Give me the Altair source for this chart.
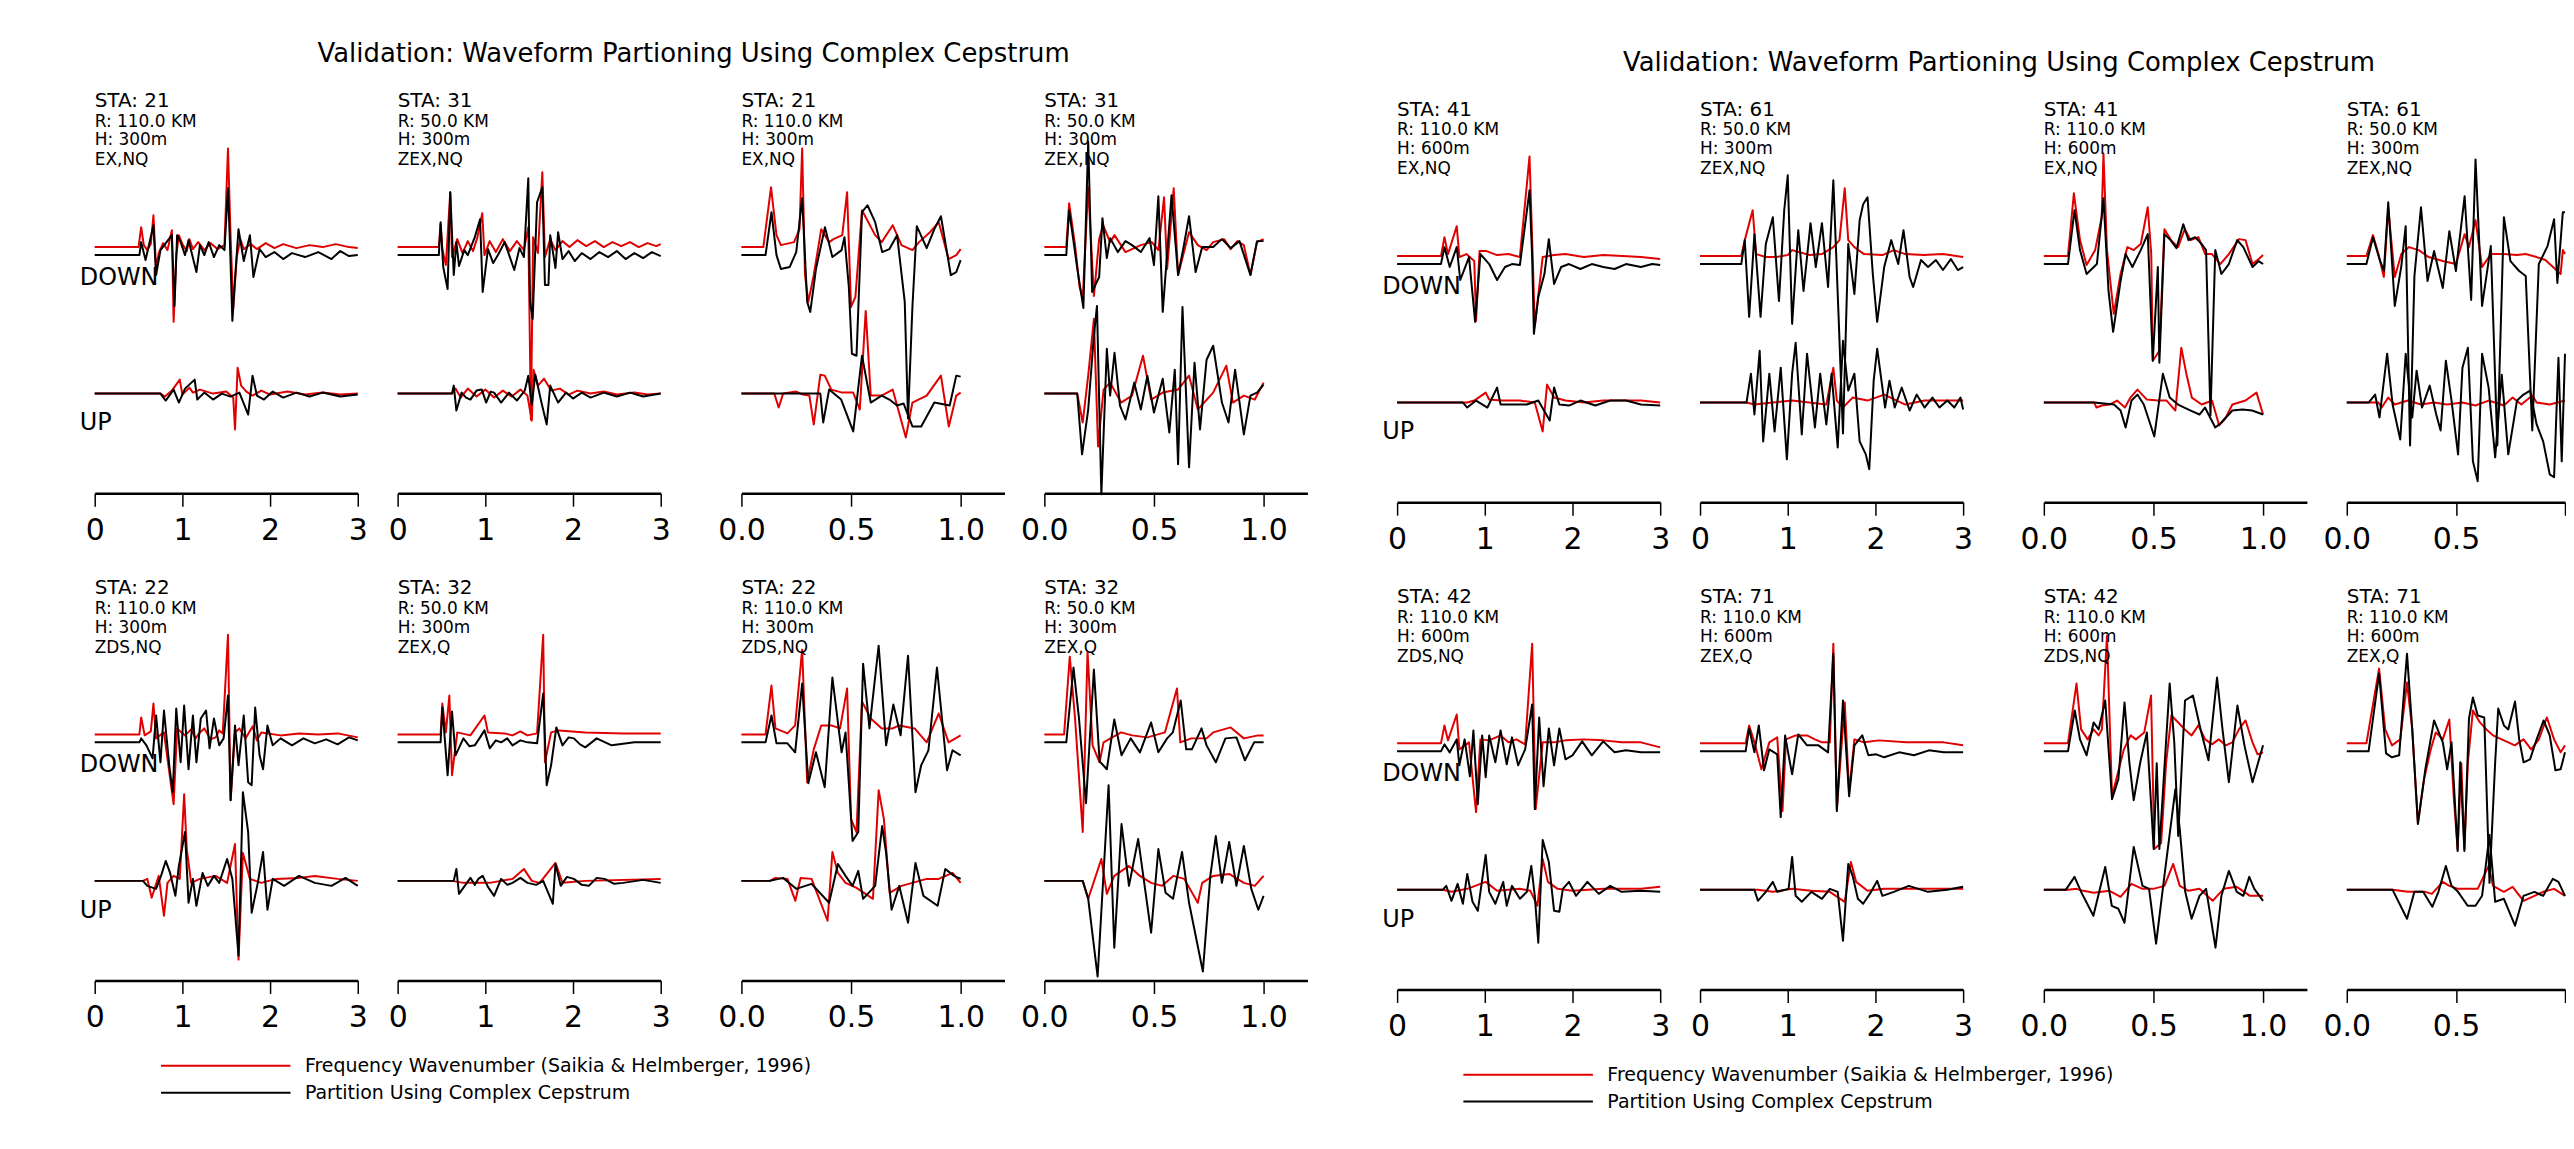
import altair as alt
import pandas as pd

FONT = "DejaVu Sans"
RED = "#e00000"
BLACK = "#000000"
FK = "Frequency Wavenumber (Saikia & Helmberger, 1996)"
CC = "Partition Using Complex Cepstrum"
TITLE = "Validation:  Waveform Partioning Using Complex Cepstrum"

# ---------------- panel metadata ----------------
PANELS = ["L1", "L2", "L3", "L4", "L5", "L6", "L7", "L8",
          "R1", "R2", "R3", "R4", "R5", "R6", "R7", "R8"]
STATIONS = ["21", "31", "21", "31", "22", "32", "22", "32",
            "41", "61", "41", "61", "42", "71", "42", "71"]
RANGES = ["110.0", "50.0", "110.0", "50.0", "110.0", "50.0", "110.0", "50.0",
          "110.0", "50.0", "110.0", "50.0", "110.0", "110.0", "110.0", "110.0"]
DEPTHS = ["300m", "300m", "300m", "300m", "300m", "300m", "300m", "300m",
          "600m", "300m", "600m", "300m", "600m", "600m", "600m", "600m"]
SOURCES = ["EX,NQ", "ZEX,NQ", "EX,NQ", "ZEX,NQ", "ZDS,NQ", "ZEX,Q", "ZDS,NQ", "ZEX,Q",
           "EX,NQ", "ZEX,NQ", "EX,NQ", "ZEX,NQ", "ZDS,NQ", "ZEX,Q", "ZDS,NQ", "ZEX,Q"]
# time-axis extent (s); the right-most panels are cut by the page edge at 1.0 s
X_MAX = [3, 3, 1.2, 1.2, 3, 3, 1.2, 1.2, 3, 3, 1.2, 1.0, 3, 3, 1.2, 1.0]
CUT = [False] * 11 + [True] + [False] * 3 + [True]
TICKS_LONG = [0, 1, 2, 3]
TICKS_SHORT = [0.0, 0.5, 1.0]

# ---------------- waveforms: (time, amplitude) ----------------
L1_DOWN_FK = [(0,0),(0.50,0),(0.53,20),(0.56,2),(0.60,-3),(0.64,3),(0.67,32),(0.70,-22),(0.73,-6),(0.78,4),(0.83,-3),(0.88,17),(0.90,-75),(0.93,-8),(0.96,12),(1.00,3),(1.05,-4),(1.08,8),(1.12,-2),(1.18,5),(1.25,-3),(1.32,4),(1.40,-2),(1.48,2),(1.52,99),(1.55,10),(1.58,-62),(1.62,-10),(1.66,8),(1.70,-2),(1.78,3),(1.85,-2),(1.95,4),(2.05,-1),(2.15,3),(2.30,-1),(2.45,2),(2.60,0),(2.75,3),(2.90,0),(3.00,-1)]
L1_DOWN_CC = [(0,-8),(0.51,-8),(0.53,5),(0.58,-13),(0.67,22),(0.70,-28),(0.75,-3),(0.88,12),(0.91,-59),(0.94,12),(0.98,5),(1.03,-8),(1.07,7),(1.16,-25),(1.20,2),(1.25,-8),(1.30,5),(1.36,-10),(1.42,2),(1.48,-3),(1.52,59),(1.54,10),(1.57,-74),(1.60,-32),(1.64,18),(1.70,-14),(1.77,12),(1.81,-30),(1.88,-2),(1.95,-10),(2.05,-5),(2.15,-12),(2.25,-6),(2.40,-10),(2.55,-5),(2.70,-12),(2.80,-4),(2.90,-9),(3.00,-8)]
L1_UP_FK = [(0,0),(0.75,0),(0.80,-3),(0.88,3),(0.97,14),(1.00,-1),(1.08,6),(1.12,1),(1.20,4),(1.35,0),(1.50,2),(1.58,-4),(1.60,-36),(1.63,26),(1.67,8),(1.73,2),(1.80,-2),(1.90,3),(2.00,-1),(2.20,2),(2.40,-1),(2.60,1),(2.80,-1),(3.00,0)]
L1_UP_CC = [(0,0),(0.75,0),(0.81,-7),(0.90,4),(0.96,-9),(1.03,5),(1.14,14),(1.17,-6),(1.25,1),(1.35,-6),(1.45,0),(1.55,-3),(1.65,1),(1.75,-21),(1.80,18),(1.85,-2),(1.93,-6),(2.03,2),(2.15,-4),(2.30,1),(2.45,-3),(2.60,1),(2.80,-3),(3.00,-1)]

L2_DOWN_FK = [(0,0),(0.47,0),(0.49,23),(0.51,-2),(0.55,-18),(0.60,55),(0.62,-10),(0.68,8),(0.74,-6),(0.80,6),(0.86,-4),(0.91,10),(0.965,34),(0.99,-8),(1.05,6),(1.12,-5),(1.20,8),(1.28,-4),(1.36,6),(1.44,-3),(1.49,20),(1.52,-173),(1.545,10),(1.60,-6),(1.65,75),(1.68,-10),(1.74,8),(1.80,-3),(1.88,6),(1.96,0),(2.05,7),(2.15,1),(2.25,6),(2.35,0),(2.45,5),(2.55,1),(2.65,5),(2.75,0),(2.85,4),(2.95,1),(3.00,3)]
L2_DOWN_CC = [(0,-8),(0.47,-8),(0.49,25),(0.52,-20),(0.57,-42),(0.60,55),(0.64,-28),(0.67,5),(0.70,-19),(0.76,-3),(0.80,-8),(0.88,10),(0.94,28),(0.97,-45),(1.03,-2),(1.09,-16),(1.15,-7),(1.22,5),(1.28,-10),(1.33,-23),(1.39,-1),(1.44,-10),(1.49,69),(1.51,-55),(1.54,-72),(1.59,45),(1.65,60),(1.68,-38),(1.72,-38),(1.74,12),(1.80,-21),(1.83,15),(1.88,-12),(1.95,-4),(2.02,-14),(2.10,-6),(2.20,-12),(2.30,-5),(2.40,-10),(2.50,-4),(2.60,-12),(2.70,-6),(2.80,-11),(2.90,-5),(3.00,-9)]
L2_UP_FK = [(0,0),(0.62,0),(0.66,5),(0.72,-4),(0.80,5),(0.90,-3),(1.00,4),(1.10,-4),(1.20,3),(1.30,-3),(1.40,4),(1.48,-2),(1.53,-27),(1.55,24),(1.60,8),(1.67,15),(1.75,3),(1.85,5),(1.95,-1),(2.05,3),(2.20,0),(2.35,2),(2.50,-1),(2.70,1),(2.85,-1),(3.00,0)]
L2_UP_CC = [(0,0),(0.62,0),(0.64,8),(0.67,-17),(0.73,1),(0.78,-4),(0.83,-6),(0.90,3),(0.96,4),(1.01,-9),(1.06,2),(1.10,1),(1.18,-9),(1.27,1),(1.36,-7),(1.45,3),(1.49,18),(1.53,-11),(1.57,19),(1.64,-9),(1.70,-31),(1.74,8),(1.83,-9),(1.92,1),(2.00,-5),(2.10,1),(2.20,-4),(2.35,1),(2.50,-3),(2.65,1),(2.80,-3),(3.00,0)]

L3_DOWN_FK = [(0,0),(0.10,0),(0.135,60),(0.16,12),(0.18,2),(0.24,5),(0.265,18),(0.277,99),(0.29,-28),(0.305,-55),(0.33,-28),(0.364,18),(0.40,5),(0.42,8),(0.46,12),(0.482,55),(0.50,-60),(0.52,-50),(0.55,37),(0.61,12),(0.64,5),(0.69,22),(0.73,2),(0.78,-3),(0.81,5),(0.86,15),(0.90,25),(0.945,-12),(0.98,-8),(1.00,-2)]
L3_DOWN_CC = [(0,-8),(0.11,-8),(0.137,35),(0.16,-8),(0.18,-22),(0.22,-20),(0.25,-5),(0.277,49),(0.30,-55),(0.314,-65),(0.34,-22),(0.381,20),(0.415,-10),(0.457,-3),(0.47,10),(0.49,-40),(0.504,-107),(0.525,-109),(0.55,35),(0.575,42),(0.61,25),(0.642,-5),(0.675,-2),(0.71,12),(0.745,-55),(0.76,-172),(0.78,-60),(0.80,21),(0.845,-1),(0.88,18),(0.91,31),(0.955,-28),(0.98,-25),(1.00,-13)]
L3_UP_FK = [(0,0),(0.15,0),(0.17,-14),(0.19,0),(0.25,2),(0.28,-1),(0.31,-2),(0.33,-31),(0.36,19),(0.38,18),(0.41,4),(0.46,1),(0.51,1),(0.54,-16),(0.567,83),(0.59,-2),(0.64,-2),(0.69,4),(0.75,-44),(0.78,-9),(0.845,-2),(0.91,18),(0.946,-33),(0.98,-2),(1.00,1)]
L3_UP_CC = [(0,0),(0.36,0),(0.373,-29),(0.40,4),(0.455,-6),(0.51,-38),(0.55,38),(0.59,-9),(0.64,-2),(0.675,-6),(0.71,-12),(0.74,-10),(0.78,-33),(0.82,-33),(0.88,-9),(0.95,-12),(0.98,18),(1.00,17)]

L4_DOWN_FK = [(0,0),(0.10,0),(0.113,44),(0.14,2),(0.16,-39),(0.175,-52),(0.20,60),(0.226,-49),(0.25,8),(0.268,22),(0.30,5),(0.32,12),(0.37,-5),(0.44,2),(0.49,5),(0.52,-3),(0.546,50),(0.56,-22),(0.59,59),(0.61,-28),(0.66,15),(0.70,2),(0.74,-3),(0.77,5),(0.82,8),(0.85,-2),(0.88,6),(0.91,2),(0.94,-28),(0.97,5),(1.00,8)]
L4_DOWN_CC = [(0,-8),(0.10,-8),(0.113,37),(0.15,-21),(0.178,-61),(0.20,106),(0.218,-45),(0.25,-30),(0.265,29),(0.285,-11),(0.30,9),(0.335,-5),(0.37,6),(0.40,2),(0.44,-5),(0.48,9),(0.50,-18),(0.52,51),(0.54,-65),(0.58,52),(0.61,-28),(0.635,0),(0.66,31),(0.69,-25),(0.72,0),(0.77,0),(0.81,8),(0.85,-1),(0.89,6),(0.94,-28),(0.97,6),(1.00,6)]
L4_UP_FK = [(0,0),(0.15,0),(0.175,-29),(0.20,18),(0.226,75),(0.245,-53),(0.27,4),(0.30,11),(0.35,-9),(0.40,-2),(0.45,38),(0.487,-6),(0.54,1),(0.61,4),(0.66,18),(0.70,-16),(0.77,1),(0.83,28),(0.86,-9),(0.91,-2),(0.96,-6),(1.00,11)]
L4_UP_CC = [(0,0),(0.15,0),(0.172,-61),(0.20,-16),(0.226,58),(0.24,88),(0.26,-101),(0.285,45),(0.30,-2),(0.32,41),(0.345,-12),(0.37,-26),(0.41,11),(0.44,-16),(0.47,18),(0.50,-19),(0.54,15),(0.57,-39),(0.595,24),(0.61,-71),(0.63,87),(0.66,-74),(0.685,31),(0.71,-36),(0.74,34),(0.77,48),(0.81,-9),(0.84,-29),(0.87,24),(0.91,-41),(0.94,-2),(0.97,1),(1.00,9)]

L5_DOWN_FK = [(0,0),(0.51,0),(0.53,17),(0.57,-1),(0.64,3),(0.67,31),(0.70,-4),(0.79,2),(0.90,-70),(0.94,6),(1.03,-1),(1.10,5),(1.15,-4),(1.20,2),(1.25,6),(1.32,-5),(1.38,-3),(1.42,4),(1.46,1),(1.52,100),(1.55,-66),(1.60,2),(1.65,6),(1.72,-4),(1.80,8),(1.85,-6),(1.90,2),(2.12,-1),(2.33,1),(2.55,0),(2.77,1),(3.00,-3)]
L5_DOWN_CC = [(0,-8),(0.51,-8),(0.53,-4),(0.59,-11),(0.66,-24),(0.70,19),(0.75,-28),(0.79,24),(0.85,-31),(0.89,-58),(0.93,26),(0.98,-28),(1.02,29),(1.07,-35),(1.12,19),(1.16,-28),(1.21,16),(1.27,24),(1.31,-14),(1.36,16),(1.42,-11),(1.47,-4),(1.52,39),(1.55,-66),(1.60,9),(1.64,-31),(1.70,19),(1.75,-48),(1.79,-51),(1.83,27),(1.88,-21),(1.92,-35),(1.97,9),(2.03,-11),(2.12,-4),(2.25,-11),(2.38,-4),(2.51,-9),(2.64,-5),(2.77,-10),(2.90,-3),(3.00,-6)]
L5_UP_FK = [(0,0),(0.55,0),(0.60,2),(0.65,-17),(0.73,5),(0.79,-35),(0.83,-2),(0.90,5),(0.97,2),(1.02,87),(1.05,32),(1.10,-2),(1.20,2),(1.38,5),(1.51,-2),(1.60,37),(1.64,-79),(1.69,28),(1.77,2),(1.90,-2),(2.07,2),(2.33,3),(2.51,5),(2.77,2),(3.00,0)]
L5_UP_CC = [(0,0),(0.55,0),(0.60,-5),(0.70,-8),(0.76,6),(0.81,20),(0.86,8),(0.92,-15),(0.96,15),(1.03,49),(1.07,-22),(1.12,2),(1.16,-25),(1.23,8),(1.29,-5),(1.36,5),(1.42,-2),(1.51,22),(1.57,2),(1.64,-75),(1.69,89),(1.75,49),(1.79,-32),(1.86,-2),(1.92,29),(1.97,-29),(2.03,2),(2.16,-5),(2.33,5),(2.51,-2),(2.70,-5),(2.86,3),(3.00,-5)]

L6_DOWN_FK = [(0,0),(0.49,0),(0.51,31),(0.55,2),(0.59,39),(0.62,-41),(0.68,2),(0.83,-1),(0.99,19),(1.03,2),(1.22,1),(1.31,-1),(1.40,3),(1.48,-1),(1.59,1),(1.66,100),(1.68,-28),(1.75,2),(1.84,4),(2.14,2),(2.57,1),(3.00,1)]
L6_DOWN_CC = [(0,-8),(0.49,-8),(0.51,27),(0.57,-41),(0.62,23),(0.66,-21),(0.75,-4),(0.82,-12),(0.88,-11),(0.94,-3),(0.99,4),(1.05,-14),(1.12,-6),(1.18,-8),(1.25,-4),(1.31,-11),(1.40,-6),(1.48,-8),(1.59,-9),(1.66,41),(1.70,-51),(1.75,-31),(1.81,7),(1.88,-11),(1.95,-3),(2.01,-4),(2.08,-10),(2.14,-13),(2.27,-4),(2.44,-11),(2.70,-8),(3.00,-8)]
L6_UP_FK = [(0,0),(0.62,0),(0.75,-2),(1.05,-2),(1.31,2),(1.44,12),(1.53,0),(1.62,-2),(1.80,18),(1.88,-2),(2.14,0),(3.00,2)]
L6_UP_CC = [(0,0),(0.64,0),(0.67,12),(0.70,-13),(0.79,-2),(0.83,3),(0.88,-4),(0.92,2),(0.97,5),(1.03,-6),(1.10,-15),(1.18,2),(1.25,-4),(1.31,-2),(1.40,3),(1.48,-2),(1.58,-4),(1.66,0),(1.77,-23),(1.80,17),(1.86,-5),(1.93,4),(2.01,2),(2.10,-4),(2.18,-5),(2.27,3),(2.36,2),(2.47,-3),(2.57,-2),(2.80,1),(3.00,-2)]

L7_DOWN_FK = [(0,0),(0.11,0),(0.137,49),(0.155,6),(0.21,1),(0.245,9),(0.277,85),(0.30,-48),(0.33,-15),(0.364,9),(0.41,9),(0.45,6),(0.482,46),(0.50,-85),(0.525,-98),(0.55,33),(0.59,16),(0.64,6),(0.69,6),(0.72,9),(0.79,6),(0.845,-8),(0.90,21),(0.945,-8),(1.00,-1)]
L7_DOWN_CC = [(0,-8),(0.11,-8),(0.137,19),(0.16,-9),(0.21,-9),(0.245,-18),(0.277,51),(0.305,-49),(0.34,-18),(0.38,-53),(0.415,57),(0.457,-18),(0.475,2),(0.507,-107),(0.533,-98),(0.555,71),(0.584,6),(0.626,89),(0.66,-11),(0.693,30),(0.726,-1),(0.76,79),(0.794,-58),(0.82,-31),(0.853,-16),(0.892,67),(0.938,-36),(0.963,-16),(1.00,-21)]
L7_UP_FK = [(0,0),(0.13,0),(0.155,3),(0.21,2),(0.246,-20),(0.27,3),(0.32,2),(0.393,-40),(0.415,29),(0.44,8),(0.475,-2),(0.525,-7),(0.60,-18),(0.626,91),(0.65,62),(0.676,-12),(0.73,-5),(0.78,-2),(0.845,2),(0.90,2),(0.963,8),(1.00,-2)]
L7_UP_CC = [(0,0),(0.13,0),(0.19,3),(0.25,-8),(0.32,-3),(0.40,-22),(0.44,17),(0.475,5),(0.507,-5),(0.533,10),(0.555,-18),(0.61,-5),(0.642,55),(0.66,28),(0.685,-29),(0.72,-5),(0.76,-42),(0.794,18),(0.83,-15),(0.895,-25),(0.93,12),(0.97,5),(1.00,2)]

L8_DOWN_FK = [(0,0),(0.09,0),(0.116,78),(0.14,16),(0.175,-98),(0.197,83),(0.22,-11),(0.252,-28),(0.27,-8),(0.35,2),(0.40,-1),(0.47,-3),(0.55,2),(0.605,46),(0.62,-8),(0.67,-4),(0.74,-4),(0.77,2),(0.85,7),(0.91,-4),(0.975,-1),(1.00,-1)]
L8_DOWN_CC = [(0,-8),(0.10,-8),(0.133,67),(0.158,16),(0.19,-69),(0.226,65),(0.252,-27),(0.285,-35),(0.319,15),(0.352,-21),(0.394,-4),(0.436,-18),(0.487,12),(0.52,-18),(0.56,-4),(0.586,2),(0.622,34),(0.647,-15),(0.673,-15),(0.717,6),(0.74,-11),(0.782,-28),(0.826,-4),(0.876,-3),(0.915,-26),(0.957,-8),(1.00,-8)]
L8_UP_FK = [(0,0),(0.175,0),(0.20,-18),(0.26,22),(0.285,-13),(0.319,5),(0.386,15),(0.436,5),(0.487,-2),(0.537,-5),(0.588,5),(0.638,2),(0.70,-22),(0.72,-2),(0.77,5),(0.843,7),(0.91,-2),(0.96,-5),(1.00,5)]
L8_UP_CC = [(0,0),(0.175,0),(0.20,-18),(0.243,-96),(0.293,96),(0.319,-67),(0.352,57),(0.386,-5),(0.428,42),(0.487,-52),(0.52,32),(0.553,-12),(0.587,-18),(0.628,29),(0.66,-22),(0.723,-91),(0.757,5),(0.782,45),(0.81,-2),(0.843,39),(0.876,-5),(0.91,35),(0.944,-8),(0.976,-29),(1.00,-15)]

R1_DOWN_FK = [(0,0),(0.50,0),(0.54,19),(0.58,2),(0.68,30),(0.71,-1),(0.79,2),(0.88,-5),(0.90,-65),(0.94,5),(1.02,5),(1.14,1),(1.27,2),(1.40,-1),(1.51,100),(1.54,16),(1.57,-70),(1.66,-1),(1.79,1),(1.92,2),(2.13,-1),(2.35,1),(2.57,0),(2.78,-1),(3.00,-3)]
R1_DOWN_CC = [(0,-8),(0.50,-8),(0.54,9),(0.60,-11),(0.68,9),(0.72,-24),(0.82,-1),(0.89,-66),(0.95,2),(1.05,-8),(1.14,-24),(1.23,-11),(1.31,-8),(1.40,-9),(1.51,66),(1.54,-1),(1.56,-78),(1.61,-41),(1.68,-18),(1.73,17),(1.79,-28),(1.87,-11),(1.96,-8),(2.09,-13),(2.22,-8),(2.35,-11),(2.48,-13),(2.61,-8),(2.78,-11),(2.91,-8),(3.00,-9)]
R1_UP_FK = [(0,0),(0.80,0),(0.88,2),(1.01,10),(1.05,3),(1.19,2),(1.40,2),(1.57,0),(1.66,-29),(1.71,18),(1.79,5),(1.92,2),(2.13,0),(2.35,2),(2.78,2),(3.00,0)]
R1_UP_CC = [(0,0),(0.75,0),(0.80,-5),(0.90,2),(1.03,-5),(1.14,15),(1.18,-2),(1.31,-2),(1.48,-2),(1.61,2),(1.74,-18),(1.79,15),(1.85,-2),(1.96,-3),(2.09,2),(2.26,-3),(2.43,2),(2.61,2),(2.78,-2),(3.00,-3)]

R2_DOWN_FK = [(0,0),(0.47,0),(0.51,16),(0.60,46),(0.64,2),(0.75,-1),(0.87,-1),(1.00,1),(1.05,6),(1.25,1),(1.39,2),(1.52,9),(1.59,16),(1.65,68),(1.69,16),(1.76,9),(1.87,2),(2.08,1),(2.21,6),(2.34,2),(2.55,1),(2.77,2),(3.00,-1)]
R2_DOWN_CC = [(0,-8),(0.47,-8),(0.51,16),(0.56,-61),(0.62,22),(0.69,-61),(0.75,12),(0.83,39),(0.90,-45),(0.96,46),(1.00,81),(1.05,-68),(1.12,26),(1.18,-35),(1.26,33),(1.32,-11),(1.39,33),(1.46,-31),(1.52,76),(1.58,-61),(1.63,-178),(1.69,12),(1.76,-38),(1.82,36),(1.86,52),(1.91,59),(1.97,-18),(2.02,-66),(2.10,-11),(2.18,16),(2.26,-8),(2.32,26),(2.39,-21),(2.43,-31),(2.52,-4),(2.60,-11),(2.69,-4),(2.77,-14),(2.86,-3),(2.94,-14),(3.00,-11)]
R2_UP_FK = [(0,0),(0.53,0),(0.62,-2),(1.05,2),(1.44,-2),(1.52,35),(1.56,2),(1.63,-5),(1.74,5),(1.91,2),(2.10,8),(2.34,-2),(2.56,2),(3.00,2)]
R2_UP_CC = [(0,0),(0.53,0),(0.58,29),(0.62,-12),(0.68,52),(0.72,-39),(0.79,29),(0.85,-29),(0.92,35),(0.99,-57),(1.05,29),(1.09,60),(1.16,-32),(1.22,49),(1.31,-25),(1.37,29),(1.44,-22),(1.50,29),(1.57,-45),(1.63,62),(1.69,12),(1.76,29),(1.82,-39),(1.89,-52),(1.93,-67),(1.98,22),(2.02,54),(2.11,-5),(2.16,22),(2.22,-5),(2.30,15),(2.39,-8),(2.47,8),(2.56,-5),(2.65,5),(2.73,-5),(2.82,2),(2.90,-5),(2.97,5),(3.00,-7)]

R3_DOWN_FK = [(0,0),(0.11,0),(0.137,63),(0.165,16),(0.195,-9),(0.234,6),(0.264,39),(0.272,103),(0.288,6),(0.319,-58),(0.35,-18),(0.381,9),(0.41,6),(0.442,12),(0.474,49),(0.49,2),(0.497,-105),(0.527,-95),(0.55,27),(0.58,16),(0.612,9),(0.643,27),(0.67,16),(0.705,19),(0.736,2),(0.767,2),(0.805,-8),(0.844,2),(0.89,17),(0.92,16),(0.952,-8),(0.98,-3),(1.00,1)]
R3_DOWN_CC = [(0,-8),(0.11,-8),(0.14,46),(0.165,6),(0.195,-18),(0.242,-8),(0.272,58),(0.295,-35),(0.316,-76),(0.35,-25),(0.373,2),(0.404,-11),(0.442,6),(0.474,22),(0.497,-105),(0.52,-11),(0.527,-107),(0.55,22),(0.578,16),(0.605,8),(0.636,32),(0.66,16),(0.69,19),(0.72,12),(0.74,6),(0.76,-160),(0.782,6),(0.81,-18),(0.844,-8),(0.882,16),(0.91,9),(0.952,-11),(0.98,-5),(1.00,-8)]
R3_UP_FK = [(0,0),(0.23,0),(0.24,-5),(0.265,-3),(0.30,-2),(0.334,2),(0.37,-5),(0.395,5),(0.427,13),(0.47,3),(0.52,2),(0.56,2),(0.60,-8),(0.627,55),(0.65,29),(0.675,5),(0.72,-2),(0.767,2),(0.80,-23),(0.83,-15),(0.86,-2),(0.92,2),(0.97,10),(1.00,-12)]
R3_UP_CC = [(0,0),(0.23,0),(0.32,-2),(0.35,-8),(0.373,-25),(0.40,2),(0.427,8),(0.456,-2),(0.504,-34),(0.543,29),(0.574,5),(0.612,-2),(0.67,-8),(0.71,-12),(0.735,-5),(0.782,-25),(0.81,-20),(0.86,-8),(0.906,-7),(0.95,-8),(1.00,-12)]

R4_DOWN_FK = [(0,0),(0.09,0),(0.12,21),(0.145,2),(0.17,-21),(0.19,48),(0.22,-21),(0.25,2),(0.285,9),(0.33,6),(0.375,-1),(0.44,-5),(0.50,-8),(0.54,22),(0.56,9),(0.59,36),(0.62,-11),(0.66,2),(0.72,2),(0.78,1),(0.82,2),(0.87,-1),(0.91,-4),(0.98,-18),(0.99,6),(1.00,2)]
R4_DOWN_CC = [(0,-8),(0.09,-8),(0.12,19),(0.15,-3),(0.17,-15),(0.19,54),(0.22,-50),(0.25,-10),(0.27,30),(0.29,-190),(0.31,-20),(0.34,49),(0.37,-25),(0.40,5),(0.44,-32),(0.47,25),(0.50,-15),(0.54,60),(0.57,-44),(0.59,97),(0.62,-50),(0.66,10),(0.69,-190),(0.72,39),(0.75,-5),(0.79,-15),(0.82,-20),(0.85,-175),(0.88,-8),(0.92,10),(0.95,37),(0.965,-27),(0.99,44),(1.00,44)]
R4_UP_FK = [(0,0),(0.145,0),(0.16,-5),(0.19,5),(0.22,-2),(0.28,2),(0.34,-2),(0.40,0),(0.46,-2),(0.53,0),(0.59,-3),(0.65,2),(0.72,-3),(0.76,5),(0.80,-2),(0.85,7),(0.87,0),(0.93,-2),(1.00,2)]
R4_UP_CC = [(0,0),(0.10,0),(0.13,8),(0.15,-15),(0.185,49),(0.21,-2),(0.245,-37),(0.27,49),(0.30,-15),(0.32,32),(0.345,-5),(0.38,17),(0.41,-12),(0.43,-28),(0.454,42),(0.48,2),(0.51,-52),(0.53,35),(0.555,55),(0.578,-59),(0.60,-79),(0.62,49),(0.65,15),(0.68,-55),(0.71,28),(0.74,-52),(0.78,2),(0.81,8),(0.84,12),(0.87,-22),(0.90,-39),(0.93,-72),(0.95,-75),(0.97,45),(0.985,-59),(1.00,49)]

R5_DOWN_FK = [(0,0),(0.50,0),(0.54,18),(0.58,3),(0.68,29),(0.71,-6),(0.82,1),(0.90,-69),(0.95,4),(1.05,3),(1.18,8),(1.27,1),(1.36,4),(1.46,-1),(1.54,100),(1.58,-66),(1.66,1),(1.79,1),(1.92,3),(2.13,4),(2.35,3),(2.56,1),(2.78,1),(3.00,-4)]
R5_DOWN_CC = [(0,-8),(0.50,-8),(0.54,-1),(0.60,-9),(0.68,4),(0.71,-22),(0.77,4),(0.83,-33),(0.87,13),(0.92,-61),(0.97,8),(1.01,-34),(1.05,8),(1.12,-19),(1.18,13),(1.25,-21),(1.31,6),(1.38,-22),(1.46,-6),(1.54,39),(1.57,-66),(1.62,26),(1.67,-43),(1.73,15),(1.79,-22),(1.85,15),(1.92,-16),(2.00,-12),(2.11,2),(2.22,-12),(2.35,2),(2.48,-9),(2.61,-7),(2.78,-9),(3.00,-9)]
R5_UP_FK = [(0,0),(0.52,0),(0.62,-2),(0.80,1),(1.01,8),(1.14,-1),(1.40,1),(1.52,-1),(1.60,-16),(1.66,31),(1.72,8),(1.83,1),(2.00,-1),(2.35,1),(2.78,1),(3.00,3)]
R5_UP_CC = [(0,0),(0.52,0),(0.56,4),(0.62,-11),(0.69,6),(0.75,-14),(0.80,16),(0.86,-12),(0.92,-21),(1.01,35),(1.05,-2),(1.12,-14),(1.21,8),(1.25,-16),(1.31,4),(1.40,-9),(1.48,-2),(1.53,24),(1.57,-6),(1.61,-53),(1.66,50),(1.73,28),(1.79,-21),(1.85,-22),(1.89,1),(1.96,8),(2.04,-6),(2.17,8),(2.30,-4),(2.43,4),(2.56,-2),(2.78,-1),(3.00,-2)]

R6_DOWN_FK = [(0,0),(0.52,0),(0.56,18),(0.62,1),(0.70,-26),(0.79,1),(0.88,6),(0.94,-68),(0.98,4),(1.09,8),(1.22,8),(1.31,4),(1.39,1),(1.48,1),(1.52,100),(1.56,-66),(1.65,41),(1.70,-49),(1.76,4),(1.87,1),(2.04,3),(2.35,1),(2.78,1),(3.00,-2)]
R6_DOWN_CC = [(0,-8),(0.52,-8),(0.56,15),(0.62,-9),(0.67,18),(0.73,-27),(0.79,-6),(0.88,-11),(0.92,-74),(0.97,8),(1.01,-12),(1.05,-31),(1.12,9),(1.22,-2),(1.35,-2),(1.46,-9),(1.52,90),(1.56,-68),(1.63,43),(1.70,-53),(1.76,-2),(1.85,8),(1.92,-12),(2.01,-11),(2.10,-14),(2.27,-9),(2.44,-12),(2.61,-7),(2.78,-9),(3.00,-9)]
R6_UP_FK = [(0,0),(0.66,0),(0.83,-2),(1.05,1),(1.27,-1),(1.48,-2),(1.65,-12),(1.72,28),(1.78,8),(1.91,-1),(2.10,1),(3.00,1)]
R6_UP_CC = [(0,0),(0.62,0),(0.66,-11),(0.75,-2),(0.83,8),(0.88,-2),(1.01,1),(1.05,33),(1.09,-6),(1.16,-12),(1.27,-2),(1.39,-9),(1.48,1),(1.57,-2),(1.63,-51),(1.69,26),(1.74,14),(1.80,-9),(1.86,-14),(1.95,-2),(2.02,9),(2.08,-6),(2.21,-2),(2.38,4),(2.60,-2),(2.82,0),(3.00,3)]

R7_DOWN_FK = [(0,0),(0.11,0),(0.149,60),(0.17,14),(0.20,4),(0.227,14),(0.25,8),(0.265,14),(0.288,108),(0.311,-53),(0.334,-33),(0.365,-6),(0.396,8),(0.42,4),(0.458,11),(0.489,48),(0.504,-106),(0.535,-100),(0.558,-19),(0.582,28),(0.613,21),(0.643,14),(0.674,8),(0.705,18),(0.736,4),(0.767,-1),(0.798,4),(0.83,-2),(0.86,1),(0.89,14),(0.92,23),(0.952,1),(0.975,-11),(1.00,-9)]
R7_DOWN_CC = [(0,-8),(0.11,-8),(0.141,33),(0.165,4),(0.195,-12),(0.227,21),(0.25,14),(0.28,43),(0.311,-56),(0.34,-36),(0.368,41),(0.39,-19),(0.41,-57),(0.44,-19),(0.47,11),(0.501,-106),(0.515,-20),(0.527,-106),(0.574,60),(0.595,1),(0.613,-93),(0.644,43),(0.68,48),(0.715,14),(0.751,-17),(0.79,66),(0.815,14),(0.844,-39),(0.883,38),(0.915,-2),(0.952,-39),(1.00,-2)]
R7_UP_FK = [(0,0),(0.11,0),(0.149,1),(0.18,-1),(0.227,-3),(0.30,-1),(0.35,-7),(0.40,6),(0.45,1),(0.50,1),(0.55,4),(0.59,26),(0.62,4),(0.66,-1),(0.71,1),(0.77,-11),(0.82,1),(0.88,3),(0.94,-6),(1.00,-6)]
R7_UP_CC = [(0,0),(0.10,0),(0.14,13),(0.17,-2),(0.226,-26),(0.28,23),(0.31,-16),(0.34,-19),(0.368,-33),(0.41,43),(0.45,4),(0.48,1),(0.512,-54),(0.55,14),(0.60,101),(0.62,61),(0.645,-2),(0.674,-29),(0.71,-6),(0.74,1),(0.783,-58),(0.81,-6),(0.844,19),(0.88,-2),(0.91,-6),(0.937,13),(0.96,1),(1.00,-11)]

R8_DOWN_FK = [(0,0),(0.09,0),(0.148,75),(0.176,14),(0.207,-2),(0.245,4),(0.276,61),(0.30,14),(0.326,-80),(0.354,-36),(0.385,-6),(0.408,11),(0.44,4),(0.47,24),(0.49,-53),(0.508,-106),(0.525,-20),(0.539,-106),(0.555,-19),(0.578,33),(0.61,21),(0.64,14),(0.67,8),(0.72,3),(0.77,-2),(0.81,4),(0.845,-6),(0.88,4),(0.917,26),(0.95,4),(0.98,-9),(1.00,-2)]
R8_DOWN_CC = [(0,-8),(0.10,-8),(0.148,70),(0.18,-10),(0.207,-14),(0.24,-12),(0.276,90),(0.30,14),(0.326,-81),(0.36,-26),(0.40,23),(0.44,1),(0.46,-26),(0.48,1),(0.508,-108),(0.52,-19),(0.539,-108),(0.56,25),(0.578,46),(0.60,28),(0.63,26),(0.654,-140),(0.68,-19),(0.694,35),(0.72,18),(0.74,14),(0.771,42),(0.79,4),(0.81,-19),(0.84,-16),(0.87,4),(0.902,23),(0.93,8),(0.956,-27),(0.98,-26),(1.00,-9)]
R8_UP_FK = [(0,0),(0.21,0),(0.28,-2),(0.36,-2),(0.39,-4),(0.44,8),(0.47,4),(0.51,1),(0.55,1),(0.60,1),(0.65,24),(0.67,4),(0.72,-2),(0.76,3),(0.81,-11),(0.86,-6),(0.90,-2),(0.95,1),(1.00,-6)]
R8_UP_CC = [(0,0),(0.21,0),(0.276,-29),(0.31,-2),(0.35,-2),(0.392,-17),(0.42,-2),(0.454,24),(0.48,4),(0.51,-2),(0.554,-16),(0.59,-16),(0.62,-6),(0.654,55),(0.68,-12),(0.72,-9),(0.771,-36),(0.81,-6),(0.86,-2),(0.90,-6),(0.944,11),(0.97,8),(1.00,-6)]

TRACES = {pid: {key: globals()[f"{pid}_{key}"] for key in ("DOWN_FK", "DOWN_CC", "UP_FK", "UP_CC")}
          for pid in PANELS}

# ---------------- layout constants (pixels) ----------------
PANEL_W = 264          # plot width of a full panel
CUT_W = 219            # right-most panels, cut by the page edge
ROW_H = {"L": (405, 396), "R": (414, 405)}   # plot heights: row 1, row 2
DOWN_BASE = 247        # DOWN baseline, px above the time axis
UP_BASE = 100          # UP baseline, px above the time axis
STA_Y = 394
INFO_Y = [373, 354, 334]
SIDE_Y = {"DOWN": 216, "UP": 70}
SIDE_DX = -15
TITLE_Y = 441          # title centre, px above the first-row axis
TITLE_DX = {"L": 297, "R": 300}   # title centre, px right of second panel's origin
GAP = 40
FIG_GAP = 10
LEGEND_POS = {"L": (122, 970), "R": (1429, 979)}

# legend entries of each figure (the right figure's entries carry a trailing
# blank so that Vega-Lite keeps the two legends apart)
ENTRIES = {"L": (FK, CC), "R": (FK + " ", CC + " ")}


def legend_for(fig):
    lx, ly = LEGEND_POS[fig]
    return alt.Legend(title=None, orient="none", legendX=lx, legendY=ly,
                      direction="vertical", symbolType="M-10,0L10,0", symbolSize=169,
                      symbolStrokeWidth=2, labelFont=FONT, labelFontSize=19,
                      labelColor="black", labelOffset=70, rowPadding=7, padding=0,
                      labelLimit=0)


def panel(k, fig, height, first_row):
    pid = PANELS[k]
    span = X_MAX[k]
    width = CUT_W if CUT[k] else PANEL_W
    fk, cc = ENTRIES[fig]
    rows = []
    for comp, base in (("DOWN", DOWN_BASE), ("UP", UP_BASE)):
        for key, label in (("FK", fk), ("CC", cc)):
            for i, (t, a) in enumerate(TRACES[pid][f"{comp}_{key}"]):
                rows.append({"t": t, "y": base + a, "trace": comp, "src": label, "i": i})
    df = pd.DataFrame(rows)

    long_axis = span > 2
    extra = {"labelExpr": "datum.value >= 1 ? '' : datum.label"} if CUT[k] else {}
    xaxis = alt.Axis(values=TICKS_LONG if long_axis else TICKS_SHORT,
                     format="d" if long_axis else ".1f", title=None,
                     grid=False, domainColor="black", domainWidth=2.5,
                     tickColor="black", tickWidth=1.5, tickSize=13, labelFont=FONT,
                     labelFontSize=30, labelColor="black", labelPadding=9,
                     labelFlush=False, labelOverlap=False, labelBound=False, **extra)
    xs = alt.Scale(domain=[0, span], nice=False, zero=False)
    ys = alt.Scale(domain=[0, height], nice=False, zero=False)
    X = alt.X("t:Q", scale=xs, axis=xaxis)
    Y = alt.Y("y:Q", scale=ys, axis=None)

    scale = alt.Scale(domain=[fk, cc], range=[RED, BLACK])
    if fig == "L":
        enc = {"color": alt.Color("src:N", scale=scale, legend=legend_for(fig))}
    else:
        enc = {"stroke": alt.Stroke("src:N", scale=scale, legend=legend_for(fig))}
    base = alt.Chart(df).encode(x=X, y=Y, detail="trace:N", order="i:Q", **enc)
    red = base.transform_filter(alt.FieldEqualPredicate(field="src", equal=fk)).mark_line(
        strokeWidth=2, strokeJoin="round", clip=False)
    black = base.transform_filter(alt.FieldEqualPredicate(field="src", equal=cc)).mark_line(
        strokeWidth=2, strokeJoin="round", clip=False)

    px = span / width   # seconds per pixel
    lab_rows = [{"t": 0, "y": STA_Y, "text": f"STA: {STATIONS[k]}", "kind": "sta"}]
    for yv, txt in zip(INFO_Y, [f"R: {RANGES[k]} KM", f"H: {DEPTHS[k]}", SOURCES[k]]):
        lab_rows.append({"t": 0, "y": yv, "text": txt, "kind": "info"})
    if k % 4 == 0:
        for name, yv in SIDE_Y.items():
            lab_rows.append({"t": SIDE_DX * px, "y": yv, "text": name, "kind": "side"})
    if k % 4 == 1 and first_row:
        lab_rows.append({"t": TITLE_DX[fig] * px, "y": TITLE_Y, "text": TITLE, "kind": "title"})
    labels = pd.DataFrame(lab_rows)
    lab_base = alt.Chart(labels).encode(x=X, y=Y, text="text:N")
    layers = [red, black]
    styles = {"sta": dict(align="left", fontSize=20),
              "info": dict(align="left", fontSize=17),
              "side": dict(align="left", fontSize=24),
              "title": dict(align="center", fontSize=26)}
    for kind in labels["kind"].unique():
        layers.append(lab_base.transform_filter(alt.datum.kind == kind).mark_text(
            baseline="middle", font=FONT, color="black", **styles[kind]))
    return alt.layer(*layers).properties(width=width, height=height)


def spacer(width):
    return alt.Chart(pd.DataFrame({"v": [0]})).mark_point(opacity=0).encode(
        x=alt.X("v:Q", axis=None), y=alt.Y("v:Q", axis=None)
    ).properties(width=width, height=1)


cells = []
for r in range(2):
    for fig, offset in (("L", 0), ("R", 8)):
        ks = [offset + 4 * r + j for j in range(4)]
        h = ROW_H[fig][r]
        p = [panel(k, fig, h, r == 0) for k in ks]
        cells += [p[0], p[1], spacer(1), p[2], p[3]]
        if fig == "L":
            cells.append(spacer(FIG_GAP))

chart = alt.concat(
    *cells, columns=11, spacing=alt.RowColnumber(row=84, column=GAP), bounds="flush"
).properties(
    padding={"left": 71, "top": 31, "right": 0, "bottom": 0},
    background="white",
).configure_view(stroke=None)

chart.save("out.html", embed_options={"renderer": "svg", "actions": False})
